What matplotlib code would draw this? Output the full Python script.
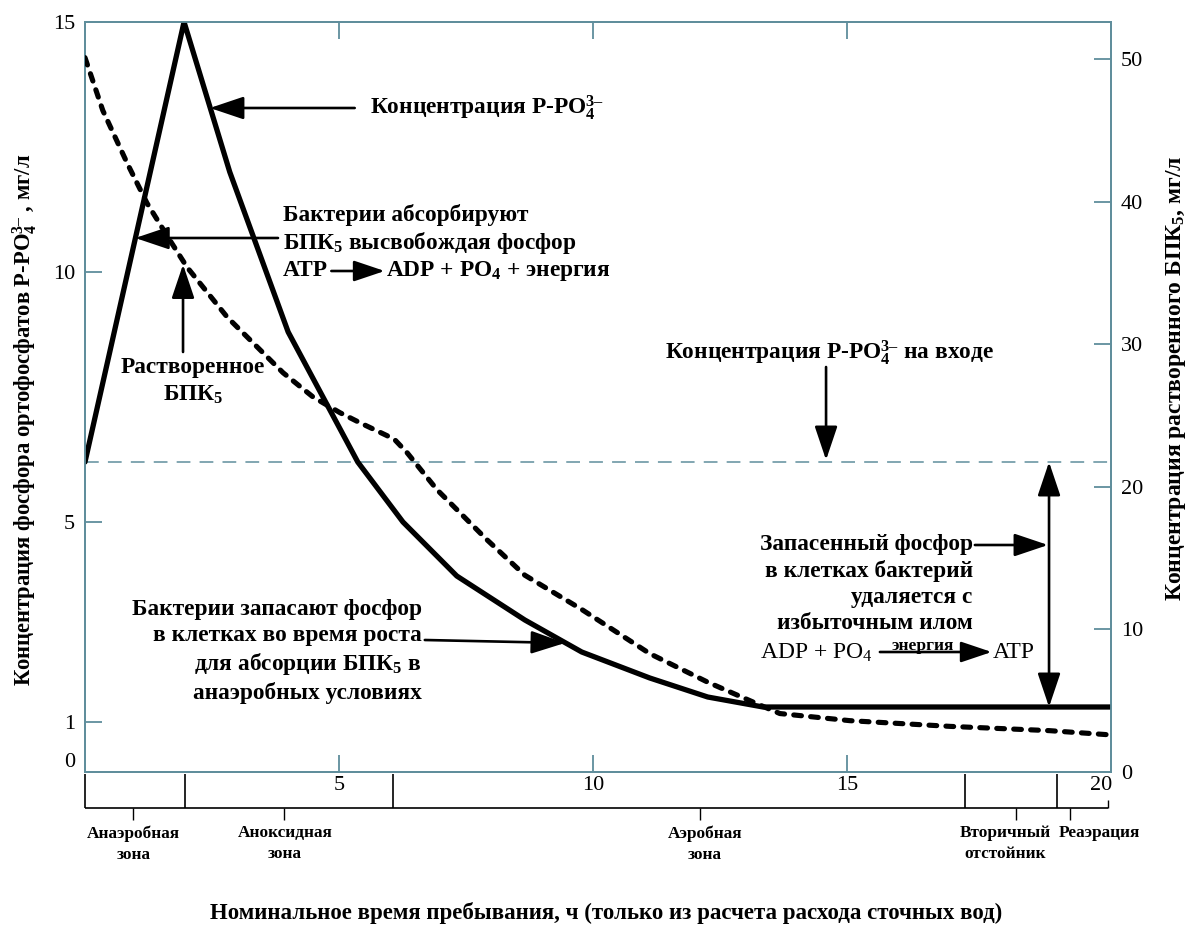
import matplotlib
matplotlib.use('Agg')
import matplotlib.pyplot as plt
from matplotlib.patches import FancyArrowPatch

plt.rcParams['font.family'] = ['Liberation Serif', 'DejaVu Serif']
plt.rcParams['mathtext.fontset'] = 'custom'
plt.rcParams['mathtext.rm'] = 'Liberation Serif'
plt.rcParams['mathtext.bf'] = 'Liberation Serif:bold'
plt.rcParams['mathtext.it'] = 'Liberation Serif:italic'

# ---------------- data ----------------
time_p = [0, 1.95, 2.85, 4.0, 5.37, 6.26, 7.32, 8.66, 9.78, 11.12, 12.26, 13.35, 20.2]
p_conc = [6.2, 15.0, 12.0, 8.8, 6.2, 5.0, 3.92, 3.04, 2.4, 1.88, 1.5, 1.3, 1.3]

time_bod = [0, 0.35, 0.83, 1.22, 1.67, 2.01, 2.8, 3.9, 4.49, 5.02, 5.41, 5.94, 6.1,
            6.34, 6.93, 7.91, 8.66, 9.78, 11.12, 12.26, 13.35, 13.68, 15.06, 17.03,
            18.99, 20.2]
bod = [50.1, 46.4, 42.7, 39.9, 37.3, 35.4, 31.9, 28.0, 26.3, 25.2, 24.5, 23.6, 23.3,
       22.4, 19.8, 16.3, 13.8, 11.4, 8.3, 6.3, 4.6, 4.1, 3.6, 3.2, 2.9, 2.6]

p_inlet = 6.2

left_ticks = [0, 1, 5, 10, 15]
right_ticks = [0, 10, 20, 30, 40, 50]
x_ticks = [5, 10, 15, 20]
x_ticklabels = ['5', '10', '15', '20']

zone_bounds = [0, 1.97, 6.06, 17.32, 19.13]
zone_marks = [0.94, 3.92, 12.1, 18.33, 19.39]
zone_label_x = [0.96, 3.94, 12.2, 18.11, 19.98]
zone_labels = ['Анаэробная\nзона', 'Аноксидная\nзона', 'Аэробная\nзона',
               'Вторичный\nотстойник', 'Реаэрация']

# ---------------- style ----------------
W, H = 1187, 926
AXC = '#5f8e9c'
FS_TICK = 16
FS_ANN = 16.8
FS_ZONE = 12.4
PO43 = r'P-PO$_\mathbf{4}^\mathbf{3–}$'

fig = plt.figure(figsize=(W / 100, H / 100), dpi=100)
L, R, B, T = 85 / W, 1111 / W, 1 - 772 / H, 1 - 22 / H
ax = fig.add_axes([L, B, R - L, T - B])
ax.set_xlim(0, 20.2)
ax.set_ylim(0, 15)
ax2 = ax.twinx()
ax2.set_ylim(0, 52.6)

for a in (ax, ax2):
    for s in a.spines.values():
        s.set_color(AXC)
        s.set_linewidth(1.3)

ax.plot(time_p, p_conc, color='black', lw=3.8, solid_joinstyle='round',
        solid_capstyle='round', zorder=5)
ax2.plot(time_bod, bod, color='black', lw=3.7, dashes=(1.5, 1.8),
         dash_capstyle='round', dash_joinstyle='round', zorder=5)
ax.axhline(p_inlet, color=AXC, lw=1.1, dashes=(9, 6), zorder=2)

ax.set_yticks(left_ticks)
ax.set_yticklabels([str(v) for v in left_ticks])
ax.tick_params(axis='y', direction='in', length=12, width=1.3, color=AXC,
               labelsize=FS_TICK, pad=7)
ax.yaxis.get_major_ticks()[0].tick1line.set_visible(False)
ax.yaxis.get_major_ticks()[0].label1.set_va('bottom')
ax2.set_yticks(right_ticks)
ax2.tick_params(axis='y', direction='in', length=12, width=1.3, color=AXC,
                labelsize=FS_TICK, pad=7)
ax2.yaxis.get_major_ticks()[0].tick2line.set_visible(False)

ax.set_xticks(x_ticks)
ax.set_xticklabels(x_ticklabels)
ax.tick_params(axis='x', direction='in', length=12, width=1.3, color=AXC,
               labelsize=FS_TICK, pad=3, top=True)
xt = ax.xaxis.get_major_ticks()[3]
xt.tick1line.set_visible(False)
xt.tick2line.set_visible(False)

# ---------------- zone band ----------------
bb = 1 - 808 / H
bt = 1 - 774 / H
axb = fig.add_axes([L, bb, R - L, bt - bb])
axb.set_xlim(0, 20.2)
axb.set_ylim(0, 1)
axb.axis('off')
axb.hlines(0, 0, 20.14, color='black', lw=1.2, clip_on=False)
axb.vlines(zone_bounds, 0, 1, color='black', lw=1.2, clip_on=False)
axb.vlines(zone_marks, -0.36, 0, color='black', lw=1.0, clip_on=False)
axb.vlines([20.14], 0, 0.25, color='black', lw=1.0, clip_on=False)
for xz, lab in zip(zone_label_x, zone_labels):
    axb.text(xz, -0.5, lab, ha='center', va='top', fontsize=FS_ZONE,
             fontweight='bold', linespacing=1.45, clip_on=False)

# ---------------- axis labels ----------------
fig.text(25 / W, 1 - 420 / H,
         'Концентрация фосфора ортофосфатов ' + PO43 + ' , мг/л',
         rotation=90, ha='center', va='center', fontsize=16.3, fontweight='bold')
fig.text(1176 / W, 1 - 378 / H, r'Концентрация растворенного БПК$_\mathbf{5}$, мг/л',
         rotation=90, ha='center', va='center', fontsize=17, fontweight='bold')
fig.text(606 / W, 1 - 913 / H,
         'Номинальное время пребывания, ч (только из расчета расхода сточных вод)',
         ha='center', va='center', fontsize=16.5, fontweight='bold')


# ---------------- annotations ----------------
def arrow(x0, y0, x1, y1, both=False, lw=1.9, ms=22):
    st = '<|-|>' if both else '-|>'
    p = FancyArrowPatch((x0, y0), (x1, y1),
                        arrowstyle=st + ',head_length=0.95,head_width=0.32',
                        mutation_scale=ms, color='black', lw=lw, shrinkA=0, shrinkB=0,
                        zorder=6)
    ax.add_patch(p)


# 1
ax.text(5.61, 13.28, 'Концентрация ' + PO43, ha='left', va='center',
        fontsize=FS_ANN, fontweight='bold')
arrow(5.31, 13.28, 2.46, 13.28)

# 2
ax.text(3.9, 11.14, 'Бактерии абсорбируют', ha='left', va='center',
        fontsize=FS_ANN, fontweight='bold')
ax.text(3.9, 10.58, r'БПК$_\mathbf{5}$ высвобождая фосфор', ha='left', va='center',
        fontsize=FS_ANN, fontweight='bold')
ax.text(3.9, 10.02, 'ATP', ha='left', va='center', fontsize=FS_ANN, fontweight='bold')
arrow(4.85, 10.02, 5.9, 10.02, ms=20)
ax.text(5.93, 10.02, r'ADP + PO$_\mathbf{4}$ + энергия', ha='left', va='center',
        fontsize=FS_ANN, fontweight='bold')
arrow(3.8, 10.68, 0.99, 10.68)

# 3
ax.text(2.13, 7.81, 'Растворенное\n' + r'БПК$_\mathbf{5}$', ha='center', va='center',
        fontsize=FS_ANN, fontweight='bold', linespacing=1.3)
arrow(1.93, 8.4, 1.93, 10.15)

# 4
ax.text(14.65, 8.38, 'Концентрация ' + PO43 + ' на входе', ha='center',
        va='center', fontsize=FS_ANN, fontweight='bold')
arrow(14.59, 8.1, 14.59, 6.24)

# 5
ax.text(17.48, 3.76, 'Запасенный фосфор\nв клетках бактерий\nудаляется с\nизбыточным илом',
        ha='right', va='center', fontsize=FS_ANN, fontweight='bold', linespacing=1.3)
arrow(17.52, 4.54, 18.96, 4.54)

# 6
ax.text(13.29, 2.38, r'ADP + PO$_4$', ha='left', va='center', fontsize=17)
arrow(15.65, 2.4, 17.85, 2.4, ms=20)
ax.text(16.5, 2.44, 'энергия', ha='center', va='baseline', fontsize=12.5,
        fontweight='bold')
ax.text(17.88, 2.38, 'ATP', ha='left', va='center', fontsize=17)

# 7
arrow(18.98, 1.3, 18.98, 6.2, both=True)

# 8
ax.text(6.63, 2.41, 'Бактерии запасают фосфор\nв клетках во время роста\n'
        + r'для абсорции БПК$_\mathbf{5}$ в' + '\nанаэробных условиях',
        ha='right', va='center', fontsize=FS_ANN, fontweight='bold', linespacing=1.3)
arrow(6.69, 2.64, 9.45, 2.58)

fig.savefig('out.png', dpi=100)
